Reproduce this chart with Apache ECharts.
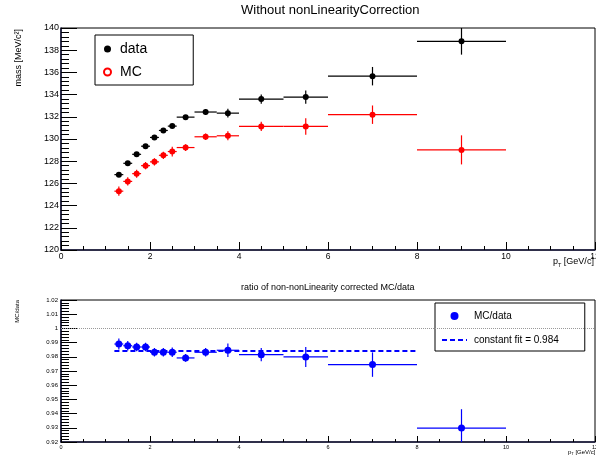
<!DOCTYPE html>
<html>
<head>
<meta charset="utf-8">
<script src="https://cdn.jsdelivr.net/npm/echarts@6/dist/echarts.min.js"></script>
<style>
  html, body { margin: 0; padding: 0; background: #fff; }
  #main { width: 596px; height: 462px; }
</style>
</head>
<body>
<div id="main"></div>
<script>
// bins in pT [GeV/c]
const binEdges = [1.2, 1.4, 1.6, 1.8, 2.0, 2.2, 2.4, 2.6, 3.0, 3.5, 4.0, 5.0, 6.0, 8.0, 10.0];
const ptCenter = [1.3, 1.5, 1.7, 1.9, 2.1, 2.3, 2.5, 2.8, 3.25, 3.75, 4.5, 5.5, 7, 9];

// mass peak [MeV/c2]
const dataMass = [126.79, 127.81, 128.62, 129.35, 130.14, 130.77, 131.16, 131.97, 132.43, 132.33, 133.6, 133.78, 135.66, 138.8];
const dataErr  = [0.12, 0.12, 0.12, 0.12, 0.12, 0.15, 0.18, 0.2, 0.27, 0.4, 0.42, 0.6, 0.83, 1.2];
const mcMass   = [125.3, 126.18, 126.88, 127.6, 127.94, 128.53, 128.87, 129.23, 130.2, 130.29, 131.13, 131.13, 132.19, 129.02];
const mcErr    = [0.42, 0.38, 0.36, 0.33, 0.33, 0.33, 0.44, 0.3, 0.3, 0.4, 0.42, 0.75, 0.83, 1.31];

// MC/data
const ratio    = [0.989, 0.9878, 0.9869, 0.9869, 0.9832, 0.9832, 0.9832, 0.9792, 0.9832, 0.9846, 0.9815, 0.9799, 0.9745, 0.9298];
const ratioErr = [0.0038, 0.0033, 0.003, 0.003, 0.003, 0.003, 0.0033, 0.0027, 0.003, 0.0047, 0.0047, 0.007, 0.0086, 0.0133];
const fitValue = 0.984;
const fitRange = [1.2, 8.0];

const font = 'Liberation Sans, Arial, Helvetica, sans-serif';
const axisColor = '#16163a';

function rows(vals, errs) {
  return ptCenter.map((x, i) => [x, vals[i], binEdges[i], binEdges[i + 1], errs[i]]);
}

function errRender(color) {
  return function (params, api) {
    const x = api.value(0), y = api.value(1), e = api.value(4);
    const lo = api.coord([api.value(2), y]);
    const hi = api.coord([api.value(3), y]);
    const top = api.coord([x, y + e]);
    const bot = api.coord([x, y - e]);
    const style = {stroke: color, lineWidth: 1.2};
    return {
      type: 'group',
      children: [
        {type: 'line', shape: {x1: lo[0], y1: lo[1], x2: hi[0], y2: hi[1]}, style: style},
        {type: 'line', shape: {x1: top[0], y1: top[1], x2: bot[0], y2: bot[1]}, style: style}
      ]
    };
  };
}

function xAxisOf(idx, fs, majorLen, minorLen) {
  return {
    type: 'value', gridIndex: idx, min: 0, max: 12, interval: 2,
    axisLine: {show: true, onZero: false, lineStyle: {color: axisColor, width: 1.6}},
    axisTick: {show: true, inside: true, length: majorLen, lineStyle: {color: '#000'}},
    minorTick: {show: true, splitNumber: 4, length: minorLen, lineStyle: {color: '#000'}},
    splitLine: {show: false},
    axisLabel: {fontFamily: font, fontSize: fs, color: '#000', margin: 2, showMaxLabel: true}
  };
}

const chart = echarts.init(document.getElementById('main'));

let option = {
  animation: false,
  backgroundColor: '#fff',
  title: [
    {text: 'Without nonLinearityCorrection', left: 241, top: 4, padding: 0,
     textStyle: {fontFamily: font, fontSize: 13, fontWeight: 'normal', color: '#000'}},
    {text: 'ratio of non-nonLinearity corrected MC/data', left: 241, top: 283, padding: 0,
     textStyle: {fontFamily: font, fontSize: 9, fontWeight: 'normal', color: '#000'}}
  ],
  grid: [
    {left: 61, right: 1, top: 28, height: 222, show: true, borderColor: '#000', borderWidth: 1, outerBoundsMode: 'none'},
    {left: 61, right: 1, top: 300, height: 142, show: true, borderColor: '#000', borderWidth: 1, outerBoundsMode: 'none'}
  ],
  xAxis: [
    xAxisOf(0, 8.5, 8, 4),
    xAxisOf(1, 5.5, 6, 3)
  ],
  yAxis: [
    {
      type: 'value', gridIndex: 0, min: 120, max: 140, interval: 2,
      axisLine: {show: true, onZero: false, lineStyle: {color: axisColor, width: 1.6}},
      axisTick: {show: true, inside: true, length: 16, lineStyle: {color: '#000'}},
      minorTick: {show: true, splitNumber: 5, length: 8, lineStyle: {color: '#000'}},
      splitLine: {show: false},
      axisLabel: {fontFamily: font, fontSize: 9, color: '#000', margin: 2}
    },
    {
      type: 'value', gridIndex: 1, min: 0.92, max: 1.02, interval: 0.01,
      axisLine: {show: true, onZero: false, lineStyle: {color: axisColor, width: 1.6}},
      axisTick: {show: true, inside: true, length: 16, lineStyle: {color: '#000'}},
      minorTick: {show: true, splitNumber: 5, length: 8, lineStyle: {color: '#000'}},
      splitLine: {show: false},
      axisLabel: {fontFamily: font, fontSize: 6, color: '#000', margin: 3,
        formatter: v => String(parseFloat(v.toFixed(2)))}
    }
  ],
  legend: [
    {
      left: 95, top: 35, orient: 'vertical',
      borderColor: '#000', borderWidth: 1, backgroundColor: '#fff',
      padding: [7, 46, 6, 8], itemGap: 9, itemWidth: 7, itemHeight: 7,
      textStyle: {fontFamily: font, fontSize: 14, color: '#000', padding: [0, 0, 0, 4]},
      data: [
        {name: 'data', icon: 'circle'},
        {name: 'MC', icon: 'emptyCircle', itemStyle: {color: '#f00', borderColor: '#f00', borderWidth: 1.2}}
      ]
    },
    {
      left: 435, top: 303, orient: 'vertical',
      borderColor: '#000', borderWidth: 1, backgroundColor: '#fff',
      padding: [8, 26, 6, 6], itemGap: 14, itemWidth: 25, itemHeight: 8,
      textStyle: {fontFamily: font, fontSize: 10, color: '#000', padding: [0, 0, 0, 2]},
      data: [
        {name: 'MC/data', icon: 'circle'},
        {name: 'constant fit = ' + fitValue, itemStyle: {opacity: 0}}
      ]
    }
  ],
  graphic: [
    {type: 'text', x: 19, y: 29, rotation: Math.PI / 2,
     style: {text: 'mass [MeV/c²]', fontFamily: font, fontSize: 9, fill: '#000', align: 'right', verticalAlign: 'middle'}},
    {type: 'text', x: 17, y: 300, rotation: Math.PI / 2,
     style: {text: 'MC/data', fontFamily: font, fontSize: 6, fill: '#000', align: 'right', verticalAlign: 'middle'}},
    {type: 'text', x: 553, y: 262,
     style: {text: '{a|p}{s|T}{a| [GeV/c]}', fontFamily: font, fill: '#000', verticalAlign: 'middle',
       rich: {a: {fontSize: 9, fontFamily: font}, s: {fontSize: 5.5, fontFamily: font, padding: [6, 0, 0, 0]}}}},
    {type: 'text', x: 568, y: 452,
     style: {text: '{a|p}{s|T}{a| [GeV/c]}', fontFamily: font, fill: '#000', verticalAlign: 'middle',
       rich: {a: {fontSize: 6, fontFamily: font}, s: {fontSize: 4, fontFamily: font, padding: [4, 0, 0, 0]}}}}
  ],
  series: [
    {
      name: 'dataErr', type: 'custom', xAxisIndex: 0, yAxisIndex: 0, clip: true, silent: true,
      renderItem: errRender('#000'), encode: {x: 0, y: 1}, data: rows(dataMass, dataErr), z: 2
    },
    {
      name: 'mcErr', type: 'custom', xAxisIndex: 0, yAxisIndex: 0, clip: true, silent: true,
      renderItem: errRender('#f00'), encode: {x: 0, y: 1}, data: rows(mcMass, mcErr), z: 2
    },
    {
      name: 'data', type: 'scatter', xAxisIndex: 0, yAxisIndex: 0, symbol: 'circle', symbolSize: 6,
      itemStyle: {color: '#000', opacity: 1}, data: ptCenter.map((x, i) => [x, dataMass[i]]), z: 3
    },
    {
      name: 'MC', type: 'scatter', xAxisIndex: 0, yAxisIndex: 0, symbol: 'circle', symbolSize: 6,
      itemStyle: {color: '#f00', opacity: 1}, data: ptCenter.map((x, i) => [x, mcMass[i]]), z: 3
    },
    {
      name: 'ratioErr', type: 'custom', xAxisIndex: 1, yAxisIndex: 1, clip: true, silent: true,
      renderItem: errRender('#0000ff'), encode: {x: 0, y: 1}, data: rows(ratio, ratioErr), z: 2
    },
    {
      name: 'MC/data', type: 'scatter', xAxisIndex: 1, yAxisIndex: 1, symbol: 'circle', symbolSize: 7,
      itemStyle: {color: '#0000ff', opacity: 1}, data: ptCenter.map((x, i) => [x, ratio[i]]), z: 3,
      markLine: {
        silent: true, symbol: 'none', label: {show: false},
        lineStyle: {type: 'dotted', color: '#999', width: 1},
        data: [{yAxis: 1}]
      }
    },
    {
      name: 'constant fit = ' + fitValue, type: 'line', xAxisIndex: 1, yAxisIndex: 1,
      symbol: 'none', showSymbol: false, silent: true,
      lineStyle: {color: '#0000ff', width: 2, type: [5, 3]},
      itemStyle: {color: '#0000ff'},
      data: fitRange.map(x => [x, fitValue]), z: 2
    }
  ]
};

option && chart.setOption(option);
</script>
</body>
</html>
